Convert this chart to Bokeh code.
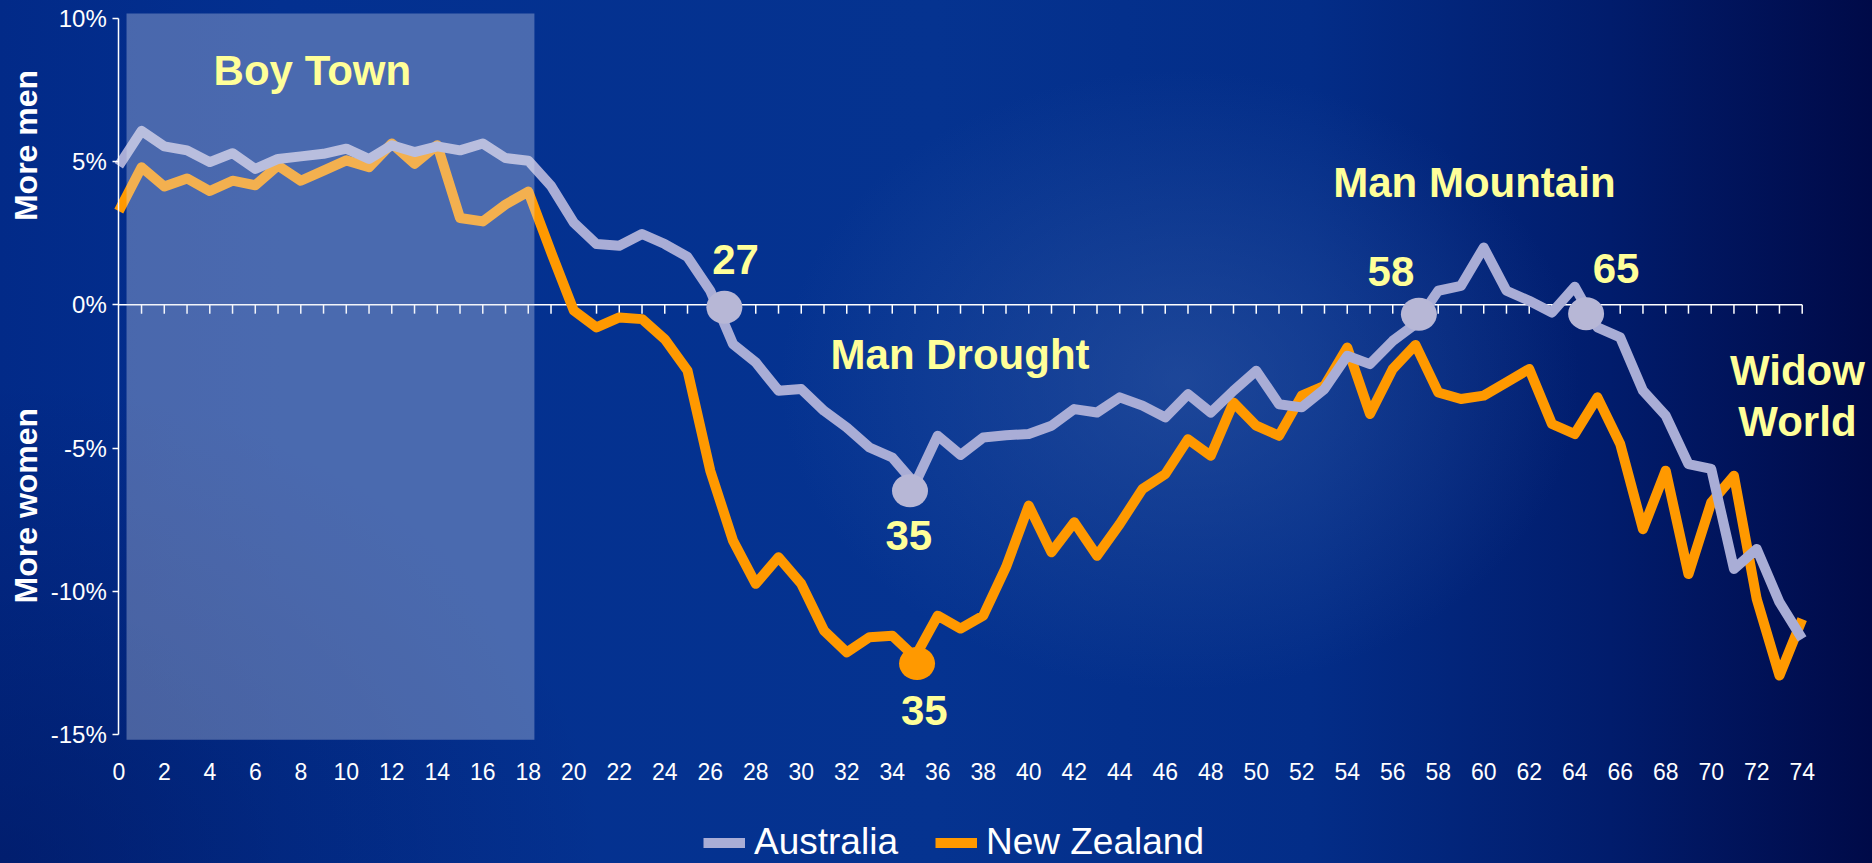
import math
from bokeh.plotting import figure
from bokeh.models import Range1d, FixedTicker, Legend, LegendItem, BoxAnnotation, Label
from bokeh.embed import file_html
from bokeh.resources import INLINE

# ---------------- data ----------------
ages = list(range(0, 75))

australia = [
    4.85, 6.07, 5.53, 5.39, 4.98, 5.29, 4.74, 5.09, 5.18, 5.27,
    5.45, 5.09, 5.57, 5.33, 5.53, 5.39, 5.63, 5.12, 5.03, 4.15,
    2.87, 2.12, 2.06, 2.47, 2.12, 1.67, 0.49, -1.37, -2.01, -3.00,
    -2.94, -3.70, -4.28, -4.98, -5.33, -6.25, -4.57, -5.24, -4.63, -4.55,
    -4.51, -4.22, -3.64, -3.76, -3.23, -3.52, -3.93, -3.12, -3.76, -3.00,
    -2.30, -3.47, -3.58, -2.94, -1.78, -2.07, -1.26, -0.67, 0.49, 0.66,
    2.00, 0.49, 0.14, -0.27, 0.63, -0.79, -1.14, -3.00, -3.87, -5.56,
    -5.73, -9.22, -8.52, -10.38, -11.66,
]

new_zealand = [
    3.27, 4.80, 4.13, 4.41, 3.97, 4.33, 4.17, 4.86, 4.33, 4.68,
    5.04, 4.80, 5.63, 4.92, 5.57, 3.03, 2.91, 3.50, 3.95, 1.84,
    -0.20, -0.79, -0.44, -0.50, -1.20, -2.30, -5.79, -8.23, -9.74, -8.81,
    -9.74, -11.37, -12.13, -11.60, -11.55, -12.30, -10.85, -11.30, -10.85, -9.16,
    -7.01, -8.64, -7.59, -8.76, -7.65, -6.43, -5.91, -4.69, -5.27, -3.41,
    -4.22, -4.57, -3.17, -2.83, -1.49, -3.81, -2.24, -1.40, -3.06, -3.29,
    -3.17, -2.71, -2.24, -4.16, -4.51, -3.23, -4.86, -7.83, -5.79, -9.40,
    -6.90, -5.97, -10.27, -12.94, -10.97,
]

x_tick_ages = list(range(0, 75, 2))
y_ticks = [-15, -10, -5, 0, 5, 10]
y_tick_labels = ["-15%", "-10%", "-5%", "0%", "5%", "10%"]

# call-out points (where the curves were marked)
aus_callout_age = [26.62, 34.78, 57.15, 64.50]
aus_callout_val = [-0.09, -6.49, -0.33, -0.31]
nz_callout_age = [35.09]
nz_callout_val = [-12.52]

# ---------------- styles ----------------
AUS = "#a9add6"
NZ = "#ff9900"
DOT = "#b7b7d6"
YEL = "#ffff99"
FONT = "Liberation Sans"

p = figure(width=1872, height=863,
           x_range=Range1d(-5.2, 77.09), y_range=Range1d(-19.50, 10.62),
           output_backend="svg", toolbar_location=None,
           min_border_left=0, min_border_right=0, min_border_top=0, min_border_bottom=0)
p.background_fill_color = None
p.border_fill_color = None
p.outline_line_color = None
p.grid.visible = False

# category labels, drawn low under the plot
xa = p.xaxis[0]
xa.fixed_location = -15.80
xa.ticker = FixedTicker(ticks=x_tick_ages)
xa.axis_line_color = None
xa.major_tick_line_color = None
xa.major_tick_out = 0
xa.major_tick_in = 0
xa.minor_tick_line_color = None
xa.major_label_text_color = "white"
xa.major_label_text_font = FONT
xa.major_label_text_font_size = "23px"
xa.major_label_standoff = 6

# value axis at age 0
ya = p.yaxis[0]
ya.fixed_location = 0
ya.ticker = FixedTicker(ticks=y_ticks)
ya.major_label_overrides = {t: s for t, s in zip(y_ticks, y_tick_labels)}
ya.bounds = (-15, 10)
ya.axis_line_color = "white"
ya.axis_line_width = 1.5
ya.major_tick_line_color = "white"
ya.major_tick_line_width = 1.5
ya.major_tick_out = 6
ya.major_tick_in = 0
ya.minor_tick_line_color = None
ya.major_label_text_color = "white"
ya.major_label_text_font = FONT
ya.major_label_text_font_size = "24px"
ya.major_label_standoff = 6

# zero line with category ticks
p.segment(x0=[ages[0]], y0=[0], x1=[ages[-1]], y1=[0], line_color="white", line_width=1.5)
p.segment(x0=ages[1:], y0=[0] * (len(ages) - 1), x1=ages[1:], y1=[-0.31] * (len(ages) - 1),
          line_color="white", line_width=1.5)

nz_r = p.line(ages, new_zealand, line_color=NZ, line_width=10, line_join="round")
aus_r = p.line(ages, australia, line_color=AUS, line_width=10, line_join="round")

p.ellipse(x=aus_callout_age, y=aus_callout_val, width=36, height=33,
          width_units="screen", height_units="screen", fill_color=DOT, line_color=None)
p.ellipse(x=nz_callout_age, y=nz_callout_val, width=36, height=33,
          width_units="screen", height_units="screen", fill_color=NZ, line_color=None)

# "Boy Town" band
p.add_layout(BoxAnnotation(left=0.34, right=18.27, top=10.17, bottom=-15.18,
                           fill_color="#dbe2f0", fill_alpha=0.33, line_color=None))

def label(x, y, text, size="42px", angle=0.0, color=YEL):
    p.add_layout(Label(x=x, y=y, text=text, text_font=FONT, text_font_style="bold",
                       text_font_size=size, text_color=color,
                       text_align="center", text_baseline="middle", angle=angle))

label(8.51, 8.18, "Boy Town")
label(27.11, 1.58, "27")
label(36.98, -1.72, "Man Drought")
label(34.73, -8.05, "35")
label(35.41, -14.16, "35")
label(59.59, 4.28, "Man Mountain")
label(55.92, 1.16, "58")
label(65.82, 1.27, "65")
label(73.79, -2.29, "Widow")
label(73.79, -4.06, "World")
label(-4.10, 5.56, "More men", size="32px", angle=math.pi / 2, color="white")
label(-4.10, -7.01, "More women", size="32px", angle=math.pi / 2, color="white")

legend = Legend(items=[LegendItem(label="Australia", renderers=[aus_r]),
                       LegendItem(label="New Zealand", renderers=[nz_r])],
                orientation="horizontal", location=(703, 0),
                label_text_font=FONT, label_text_font_size="37px", label_text_color="white",
                glyph_width=42, glyph_height=13, label_standoff=9, spacing=37,
                padding=0, margin=0, background_fill_alpha=0, border_line_color=None)
p.add_layout(legend, "center")

bg = ("html{background:"
      "radial-gradient(ellipse 400px 310px at 1180px 380px, rgba(50,90,165,0.55) 0%, rgba(50,90,165,0) 100%),"
      "radial-gradient(ellipse 600px 480px at 0px 863px, rgba(0,20,90,0.55) 0%, rgba(0,20,90,0) 100%),"
      "linear-gradient(to right, #022a88 0%, #033090 15%, #053390 50%, #032d88 70%, #011c6c 86%, #000a48 100%);}")

html = file_html(p, INLINE)
html = html.replace("</head>", "<style>" + bg + "</style></head>", 1)
open("out.html", "w").write(html)
